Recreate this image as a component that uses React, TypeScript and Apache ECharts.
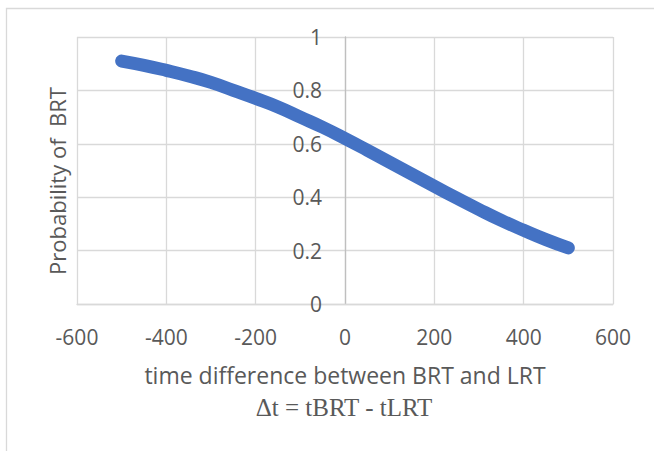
import React, { useEffect, useRef } from "react";
import * as echarts from "echarts";

const xValues = [-500, -450, -400, -350, -300, -250, -200, -150, -100, -50, 0, 50, 100, 150, 200, 250, 300, 350, 400, 450, 500];
const probValues = [0.91, 0.894, 0.875, 0.854, 0.83, 0.80, 0.77, 0.738, 0.70, 0.662, 0.62, 0.576, 0.531, 0.486, 0.441, 0.397, 0.354, 0.313, 0.276, 0.241, 0.21];
const xTitle = "time difference between BRT and LRT";
const xSubTitle = "Δt = tBRT - tLRT";
const yTitle = "Probability of  BRT";

export default function App() {
  const ref = useRef<HTMLDivElement>(null);
  useEffect(() => {
    if (!ref.current) return;
    const chart = echarts.init(ref.current, null, { renderer: "svg" });
    const sans = "'Open Sans', 'Noto Sans', sans-serif";
    chart.setOption({
      animation: false,
      backgroundColor: "#ffffff",
      grid: { left: 77, right: 41, top: 37, bottom: 147, containLabel: false },
      xAxis: {
        type: "value",
        min: -600,
        max: 600,
        interval: 200,
        axisLine: { show: true, onZero: false, lineStyle: { color: "#d9d9d9", width: 1.3 } },
        axisTick: { show: false },
        splitLine: { show: true, lineStyle: { color: "#d9d9d9", width: 1.3 } },
        axisLabel: { color: "#595959", fontSize: 21, fontFamily: sans, margin: 22 },
      },
      yAxis: {
        type: "value",
        min: 0,
        max: 1,
        interval: 0.2,
        position: "left",
        offset: -268,
        axisLine: { show: true, onZero: false, lineStyle: { color: "#bfbfbf", width: 1.3 } },
        axisTick: { show: false },
        splitLine: { show: true, lineStyle: { color: "#d9d9d9", width: 1.3 } },
        axisLabel: { color: "#595959", fontSize: 21, fontFamily: sans, margin: 23 },
      },
      series: [
        {
          type: "line",
          data: xValues.map((x, i) => [x, probValues[i]]),
          showSymbol: false,
          smooth: true,
          lineStyle: { color: "#4472C4", width: 13, cap: "round", join: "round" },
          z: 5,
        },
      ],
      graphic: [
        {
          type: "rect",
          shape: { x: 6.5, y: 8.5, width: 700, height: 500 },
          style: { fill: "none", stroke: "#d9d9d9", lineWidth: 1.3 },
          silent: true,
        },
        {
          type: "text",
          x: 345,
          y: 375,
          style: { text: xTitle, font: `23px ${sans}`, fill: "#595959", textAlign: "center", textVerticalAlign: "middle" },
        },
        {
          type: "text",
          x: 344,
          y: 407,
          style: { text: xSubTitle, font: `25px 'Liberation Serif', 'DejaVu Serif', serif`, fill: "#595959", textAlign: "center", textVerticalAlign: "middle" },
        },
        {
          type: "text",
          x: 57,
          y: 181,
          rotation: Math.PI / 2,
          style: { text: yTitle, font: `22px ${sans}`, fill: "#595959", textAlign: "center", textVerticalAlign: "middle" },
        },
      ],
    });
    return () => chart.dispose();
  }, []);
  return <div ref={ref} style={{ position: "absolute", left: 0, top: 0, width: 654, height: 451 }} />;
}
